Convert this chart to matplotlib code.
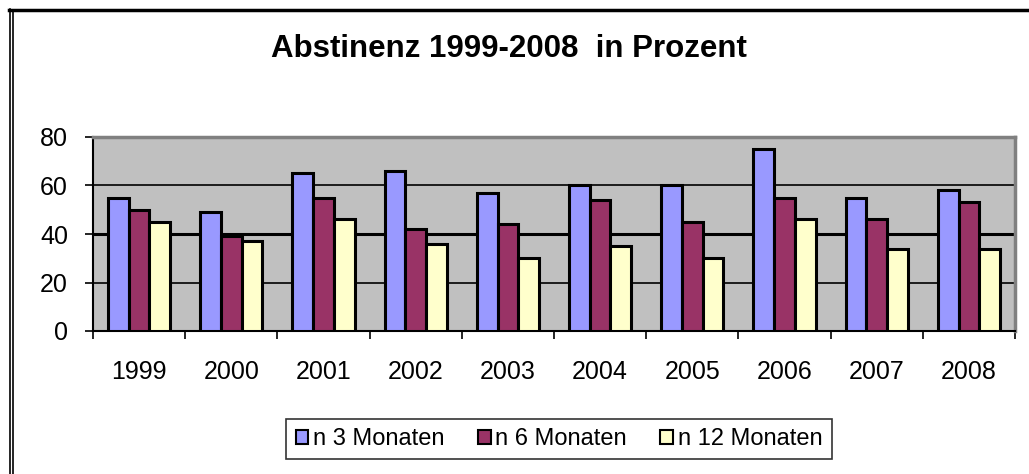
import matplotlib.pyplot as plt
import numpy as np
from matplotlib.patches import Patch
from matplotlib.lines import Line2D

plt.rcParams['font.family'] = ['Liberation Sans', 'DejaVu Sans']

# Data
years = ['1999', '2000', '2001', '2002', '2003', '2004', '2005', '2006', '2007', '2008']
m3 = [55, 49, 65, 66, 57, 60, 60, 75, 55, 58]
m6 = [50, 39, 55, 42, 44, 54, 45, 55, 46, 53]
m12 = [45, 37, 46, 36, 30, 35, 30, 46, 34, 34]
series_names = ['n 3 Monaten', 'n 6 Monaten', 'n 12 Monaten']
colors = ['#9999FF', '#993366', '#FFFFCC']

fig = plt.figure(figsize=(10.29, 4.74), dpi=100)
W, H = 1029, 474
ax = fig.add_axes([93 / W, 1 - 331 / H, (1015 - 93) / W, (331 - 137) / H])
ax.set_facecolor('#C0C0C0')

x = np.arange(len(years))
w = 0.225
for i, (vals, c) in enumerate(zip([m3, m6, m12], colors)):
    ax.bar(x + (i - 1) * w, vals, w, color=c, edgecolor='black', linewidth=2.2, zorder=3)

ax.set_xlim(-0.5, len(years) - 0.5)
ax.set_ylim(0, 80)
ax.set_yticks([0, 20, 40, 60, 80])
ax.grid(axis='y', color='black', linewidth=1.2, zorder=1)
ax.get_ygridlines()[2].set_linewidth(2.2)
ax.set_axisbelow(True)

# category labels at centres, ticks at boundaries
ax.set_xticks(x, years)
ax.set_xticks(np.arange(-0.5, len(years)), minor=True)
ax.tick_params(axis='x', which='major', length=0, pad=21, labelsize=18)
ax.tick_params(axis='x', which='minor', length=6, width=1.2, direction='out')
ax.tick_params(axis='y', length=6, width=1.2, direction='out', pad=12, labelsize=18)

for s in ['left', 'bottom']:
    ax.spines[s].set_color('black')
    ax.spines[s].set_linewidth(1.5)
for s in ['top', 'right']:
    ax.spines[s].set_color('#808080')
    ax.spines[s].set_linewidth(2.5)

fig.text(509 / W, 1 - 49 / H, 'Abstinenz 1999-2008  in Prozent', ha='center', va='center',
         fontsize=22.5, fontweight='bold')

handles = [Patch(facecolor=c, edgecolor='black', linewidth=1.5) for c in colors]
leg = fig.legend(handles, series_names, loc='center', bbox_to_anchor=(559 / W, 1 - 439 / H),
                 ncol=3, fontsize=17, frameon=True, fancybox=False, edgecolor='black',
                 handlelength=0.55, handleheight=0.55, handletextpad=0.2, columnspacing=1.4,
                 borderpad=0.4)
leg.get_frame().set_linewidth(1.2)

# outer chart frame
fig.add_artist(Line2D([9 / W, 1], [1 - 9.5 / H, 1 - 9.5 / H], color='black', linewidth=2.5))
fig.add_artist(Line2D([9.5 / W, 9.5 / W], [0, 1 - 9 / H], color='black', linewidth=1.2))
fig.add_artist(Line2D([13 / W, 13 / W], [0, 1 - 11 / H], color='black', linewidth=1.2))

fig.savefig('out.png', dpi=100)
